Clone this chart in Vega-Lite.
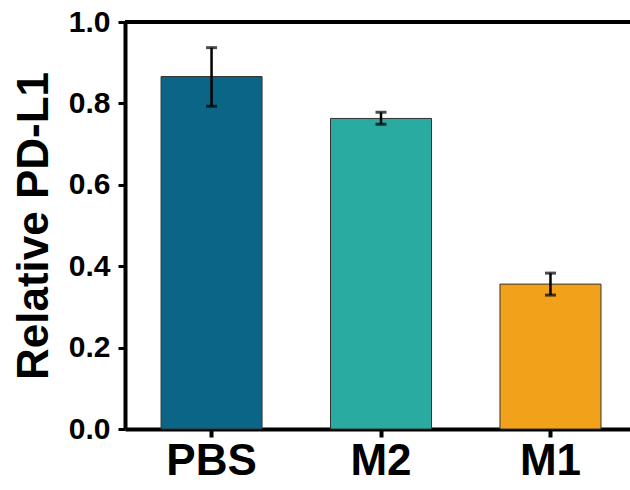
{
  "$schema": "https://vega.github.io/schema/vega-lite/v6.json",
  "autosize": "none",
  "width": 505,
  "height": 407,
  "padding": {"left": 125, "top": 22, "right": 0, "bottom": 61},
  "background": "white",
  "config": {"view": {"stroke": null}, "font": "Liberation Sans"},
  "data": {"values": [
    {"group": "PBS", "value": 0.866, "lo": 0.793, "hi": 0.937},
    {"group": "M2", "value": 0.763, "lo": 0.749, "hi": 0.778},
    {"group": "M1", "value": 0.356, "lo": 0.329, "hi": 0.383}
  ]},
  "encoding": {
    "x": {"field": "group", "type": "nominal", "sort": ["PBS", "M2", "M1"],
      "scale": {"paddingInner": 0.404, "paddingOuter": 0.192, "align": 0.554},
      "axis": {"title": null, "labelAngle": 0, "labelFont": "Liberation Sans", "labelFontWeight": "bold", "labelFontSize": 44, "labelColor": "black", "labelPadding": 2,
        "domainColor": "black", "domainWidth": 4, "tickColor": "black", "tickWidth": 4, "tickSize": 8}}
  },
  "layer": [
    {
      "mark": {"type": "bar", "stroke": "#333333", "strokeWidth": 1},
      "encoding": {
        "y": {"field": "value", "type": "quantitative", "scale": {"domain": [0, 1], "nice": false},
          "axis": {"title": "Relative PD-L1", "values": [0, 0.2, 0.4, 0.6, 0.8, 1.0], "format": ".1f", "grid": false,
            "labelFont": "Liberation Sans", "labelFontWeight": "bold", "labelFontSize": 30, "labelColor": "black", "labelPadding": 8,
            "titleFont": "Liberation Sans", "titleFontWeight": "bold", "titleFontSize": 44, "titleColor": "black", "titlePadding": 12,
            "domainColor": "black", "domainWidth": 4, "tickColor": "black", "tickWidth": 3, "tickSize": 7}},
        "color": {"field": "group", "type": "nominal", "legend": null,
          "scale": {"domain": ["PBS", "M2", "M1"], "range": ["#0a6587", "#2aaba2", "#f2a11a"]}}
      }
    },
    {
      "mark": {"type": "rule", "color": "black", "strokeWidth": 2.5},
      "encoding": {"y": {"field": "lo", "type": "quantitative"}, "y2": {"field": "hi"}}
    },
    {
      "mark": {"type": "tick", "color": "black", "thickness": 3, "size": 11},
      "encoding": {"y": {"field": "lo", "type": "quantitative"}}
    },
    {
      "mark": {"type": "tick", "color": "black", "thickness": 3, "size": 11},
      "encoding": {"y": {"field": "hi", "type": "quantitative"}}
    },
    {
      "mark": {"type": "rule", "color": "black", "strokeWidth": 4},
      "encoding": {"x": null, "y": {"datum": 1}}
    }
  ]
}
